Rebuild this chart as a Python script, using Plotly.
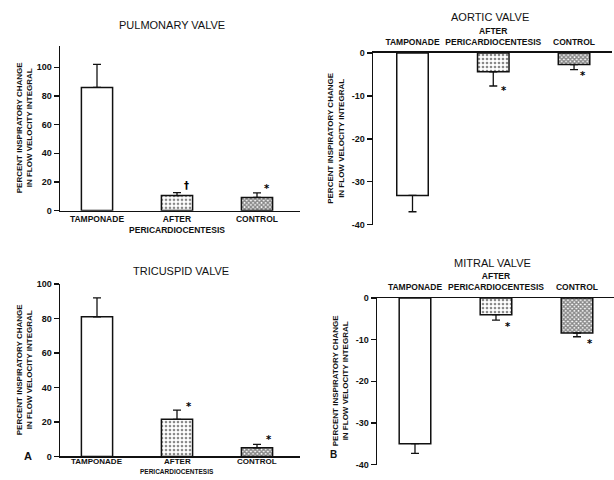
import plotly.graph_objects as go

# ---------------- data ----------------
categories = ["TAMPONADE", "AFTER<br>PERICARDIOCENTESIS", "CONTROL"]

pulm_mean = [86.0, 10.5, 9.2]
pulm_err = [16.0, 2.0, 3.2]
pulm_marks = ["", "†", "*"]

tric_mean = [81.0, 21.5, 5.0]
tric_err = [11.0, 5.3, 2.0]
tric_marks = ["", "*", "*"]

aort_mean = [-33.2, -4.4, -2.7]
aort_err = [3.8, 3.3, 1.2]
aort_marks = ["", "*", "*"]

mitr_mean = [-35.0, -4.0, -8.4]
mitr_err = [2.3, 1.3, 0.9]
mitr_marks = ["", "*", "*"]

pos_ticks = [0, 20, 40, 60, 80, 100]
neg_ticks = [0, -10, -20, -30, -40]

titles = ["PULMONARY VALVE", "TRICUSPID VALVE", "AORTIC VALVE", "MITRAL VALVE"]
ytitle = "PERCENT INSPIRATORY CHANGE<br>IN FLOW VELOCITY INTEGRAL"

# ---------------- styling ----------------
W, H = 614, 480
FONT = "Liberation Sans"
INK = "#111111"


def fx(p):
    return p / W


def fy(p):
    return 1 - p / H


pattern = dict(
    shape=["", ".", "x"],
    fgcolor=INK,
    bgcolor="white",
    size=[6, 4, 3],
    solidity=[0.2, 0.35, 0.7],
    fillmode="overlay",
)

panels = [
    # mean, err, marks, xdom(px), ydom(px bottom, top), xrange, yrange, ticks, positive
    (pulm_mean, pulm_err, pulm_marks, (60, 300), (210, 41.7), (-0.4625, 2.5375), (0, 115), pos_ticks, True),
    (tric_mean, tric_err, tric_marks, (60, 300), (461, 285), (-0.4625, 2.5375), (0, 100), pos_ticks, True),
    (aort_mean, aort_err, aort_marks, (373, 612), (224.3, 49), (-0.489, 2.47), (-40, 0), neg_ticks, False),
    (mitr_mean, mitr_err, mitr_marks, (377, 614), (469.3, 299.3), (-0.469, 2.457), (-40, 0), neg_ticks, False),
]
title_pos = [(172, 20), (181, 272), (490, 12), (492, 263)]
ytitle_x = [24, 24, 336, 340]
mark_shift = {
    0: [(0, 0), (9, 7), (10, 4)],
    1: [(0, 0), (12, 4), (12, 5)],
    2: [(0, 0), (11, -4), (9, -6)],
    3: [(0, 0), (12, -6), (13, -7)],
}

fig = go.Figure()
annotations = []
layout = {}
BOLD = dict(family=FONT, color=INK, weight="bold")

for k, (mean, err, marks, xd, yd, xr, yr, ticks, positive) in enumerate(panels):
    n = k + 1
    xa = "x" if n == 1 else f"x{n}"
    ya = "y" if n == 1 else f"y{n}"
    xkey = "xaxis" if n == 1 else f"xaxis{n}"
    ykey = "yaxis" if n == 1 else f"yaxis{n}"

    if positive:
        ebar = dict(type="data", symmetric=False, array=err, arrayminus=[0] * len(err),
                    color=INK, thickness=1.3, width=4)
    else:
        ebar = dict(type="data", symmetric=False, array=[0] * len(err), arrayminus=err,
                    color=INK, thickness=1.3, width=4)

    fig.add_trace(go.Bar(
        x=[0, 1, 2], y=mean, width=0.39,
        marker=dict(color="white", line=dict(color=INK, width=1.5), pattern=pattern),
        error_y=ebar, xaxis=xa, yaxis=ya, showlegend=False, hoverinfo="skip",
    ))

    use_ticktext = k != 1  # tricuspid labels drawn as annotations (tight bottom edge)
    layout[xkey] = dict(
        domain=[fx(xd[0]), fx(xd[1])], range=list(xr), anchor=ya,
        side="bottom" if positive else "top",
        tickvals=[0, 1, 2] if use_ticktext else [], ticktext=categories if use_ticktext else [],
        ticks="", ticklabelstandoff=0 if positive else 3,
        showline=True, linecolor=INK, linewidth=1.5, showgrid=False, zeroline=False,
        tickfont=dict(BOLD, size=8.5), tickangle=0,
        fixedrange=True,
    )
    layout[ykey] = dict(
        domain=[fy(yd[0]), fy(yd[1])], range=list(yr), anchor=xa,
        tickvals=ticks, ticktext=[str(t) for t in ticks],
        ticks="outside", ticklen=5, tickwidth=1.5, tickcolor=INK,
        showline=True, linecolor=INK, linewidth=1.5, showgrid=False, zeroline=False,
        tickfont=dict(BOLD, size=9),
        fixedrange=True,
    )

    if not use_ticktext:
        lab_lines = [c.split("<br>") for c in categories]
        for i, lines in enumerate(lab_lines):
            annotations.append(dict(text=lines[0], x=i, y=fy(471.5), xref=xa, yref="paper",
                                    showarrow=False, font=dict(BOLD, size=8),
                                    xanchor="center", yanchor="bottom", borderpad=0))
            if len(lines) > 1:
                annotations.append(dict(text=lines[1], x=i, y=fy(471.5), xref=xa, yref="paper",
                                        showarrow=False, font=dict(BOLD, size=6.5),
                                        xanchor="center", yanchor="top", borderpad=0))

    tx, ty = title_pos[k]
    annotations.append(dict(text=titles[k], x=fx(tx), y=fy(ty), xref="paper", yref="paper",
                            showarrow=False, font=dict(family=FONT, size=11, color=INK),
                            xanchor="center", yanchor="middle"))
    annotations.append(dict(text=ytitle, x=fx(ytitle_x[k]), y=(fy(yd[0]) + fy(yd[1])) / 2,
                            xref="paper", yref="paper", textangle=-90, showarrow=False,
                            font=dict(BOLD, size=8),
                            xanchor="center", yanchor="middle"))

    for i, m in enumerate(marks):
        if not m:
            continue
        yv = mean[i] + err[i] if positive else mean[i] - err[i]
        sx, sy = mark_shift[k][i]
        annotations.append(dict(text=m, x=i, y=yv, xref=xa, yref=ya,
                                xshift=sx, yshift=sy, showarrow=False,
                                font=dict(family="DejaVu Sans", size=10, color="black",
                                          weight="bold"),
                                xanchor="center", yanchor="middle"))

annotations.append(dict(text="A", x=fx(22), y=fy(469), xref="paper", yref="paper",
                        showarrow=False, font=dict(BOLD, size=11)))
annotations.append(dict(text="B", x=fx(333), y=fy(467), xref="paper", yref="paper",
                        showarrow=False, font=dict(BOLD, size=10)))

fig.update_layout(
    width=W, height=H,
    margin=dict(l=0, r=0, t=0, b=0),
    paper_bgcolor="white", plot_bgcolor="white",
    annotations=annotations,
    bargap=0,
    hovermode=False,
    **layout,
)

fig.write_html(
    "out.html",
    config={"displayModeBar": False, "staticPlot": True},
    post_script="document.body.style.margin='0';document.body.style.overflow='hidden';",
)
